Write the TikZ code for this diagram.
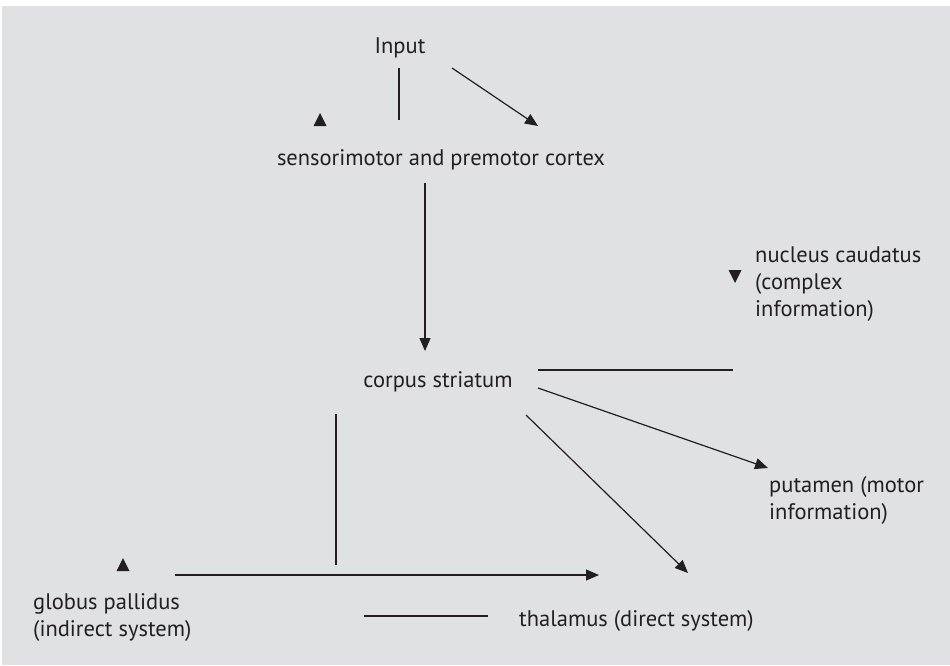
\documentclass[tikz,border=0pt]{standalone}
\usepackage{fontspec}
\setmainfont{PT Sans}
\usetikzlibrary{arrows.meta}
\definecolor{bgc}{HTML}{E0E1E3}
\definecolor{ink}{HTML}{231F20}
\begin{document}
\begin{tikzpicture}[x=1pt,y=-1pt,
  lbl/.style={font=\fontsize{22.5}{26.8}\selectfont, text=ink, inner sep=0pt},
  lblL/.style={lbl, anchor=base west, align=left},
  lblC/.style={lbl, anchor=base},
  ln/.style={draw=ink, line width=1.2pt},
  arr/.style={ln, -{Triangle[length=13pt,width=11pt]}},
  tip/.style={fill=ink, draw=none}]
\useasboundingbox (0,0) rectangle (950,665);
\fill[bgc] (2,6) rectangle (950,665);
% labels (base = baseline of last line)
\node[lblC] (input) at (400,53) {Input};
\node[lblC] (cortex) at (441,165) {sensorimotor and premotor cortex};
\node[lblC] (striatum) at (438,387) {corpus striatum};
\node[lblL] (caud) at (755,316) {nucleus caudatus\\(complex\\information)};
\node[lblL] (put) at (769,519) {putamen (motor\\information)};
\node[lblL] (glob) at (33,636) {globus pallidus\\(indirect system)};
\node[lblL] (thal) at (519,626) {thalamus (direct system)};
% coordinates
\coordinate (a1) at (399,68); \coordinate (a2) at (399,120);
\coordinate (b1) at (452,68); \coordinate (b2) at (538,126);
\coordinate (c1) at (425,183); \coordinate (c2) at (425,351);
\coordinate (d1) at (538,370); \coordinate (d2) at (733,370);
\coordinate (e1) at (538,388); \coordinate (e2) at (768,468);
\coordinate (f1) at (526,415); \coordinate (f2) at (688,573);
\coordinate (g1) at (336,414); \coordinate (g2) at (336,565);
\coordinate (h1) at (175,575); \coordinate (h2) at (599,575);
\coordinate (i1) at (364,616); \coordinate (i2) at (488,616);
% connectors
\draw[ln] (a1) -- (a2);
\draw[arr] (b1) -- (b2);
\draw[arr] (c1) -- (c2);
\draw[ln] (d1) -- (d2);
\draw[arr] (e1) -- (e2);
\draw[arr] (f1) -- (f2);
\draw[ln] (g1) -- (g2);
\draw[arr] (h1) -- (h2);
\draw[ln] (i1) -- (i2);
% stray arrowheads
\fill[tip] (313.5,126) -- (326.5,126) -- (320,113) -- cycle;
\fill[tip] (728.5,270) -- (741.5,270) -- (735,283) -- cycle;
\fill[tip] (116.5,571) -- (129.5,571) -- (123,558) -- cycle;
\end{tikzpicture}
\end{document}
